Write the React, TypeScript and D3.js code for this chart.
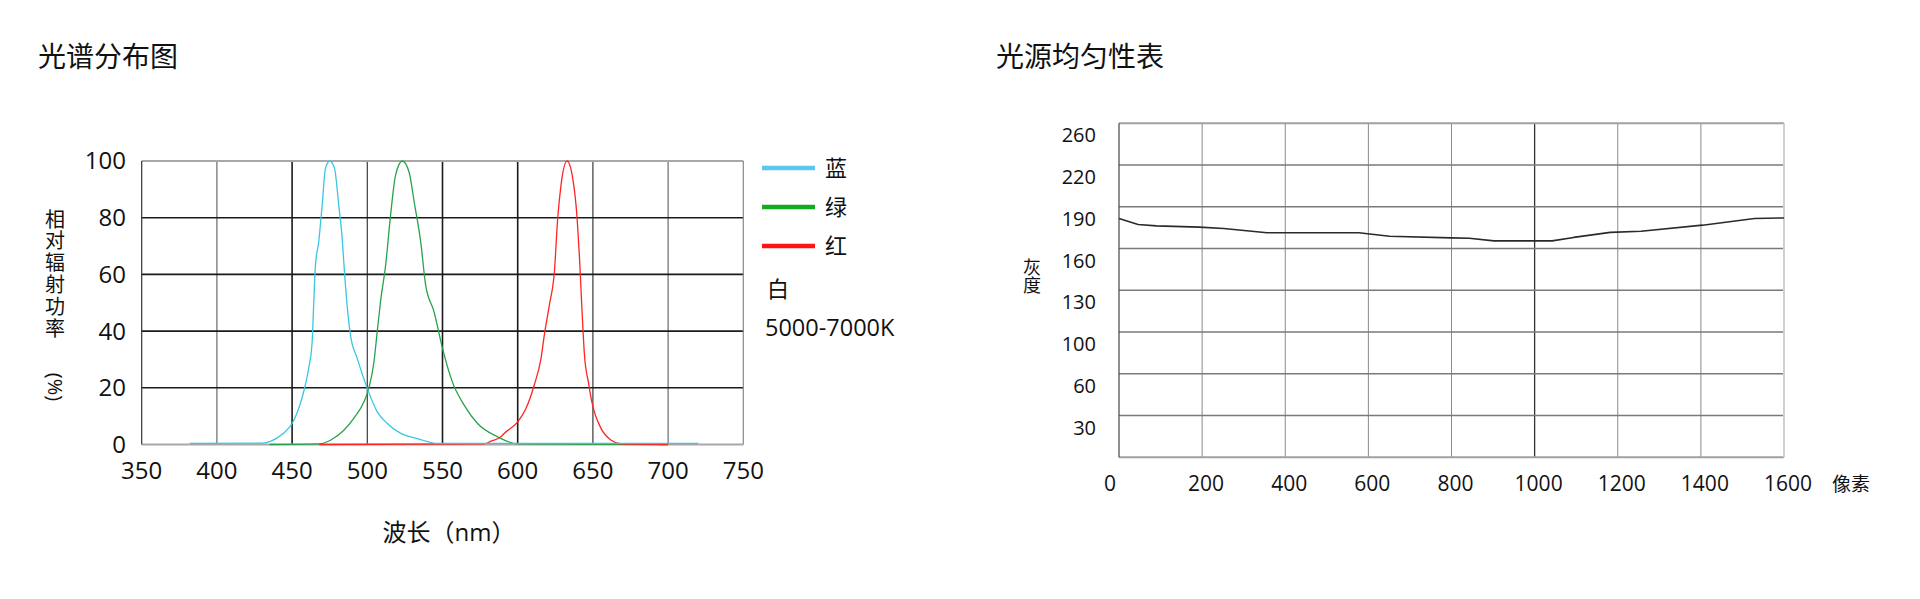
import * as React from "react";
import { scaleLinear, line as d3Line, curveMonotoneX, curveLinear, range } from "d3";

// spectrum chart data: [wavelength nm, relative power %]
const blueSpectrum: [number, number][] = [
  [382, 0.4], [430, 0.5], [436, 1.2], [444, 3.9], [450, 7.4], [455.5, 14.5],
  [457.7, 18.6], [461, 26.8], [463.3, 36], [464.4, 50], [465.5, 63], [467.7, 71.5],
  [470, 84.5], [472.2, 97.4], [475, 100], [478.2, 97.4], [481, 84.5], [483.3, 72.7],
  [484.8, 61], [486.6, 49], [488.8, 38.6], [493.3, 30.4], [500, 19.8], [506.6, 11.5],
  [513.3, 7.4], [522.2, 3.9], [533.3, 2.1], [546.6, 0.4], [560, 0.4], [720, 0.4],
];
const greenSpectrum: [number, number][] = [
  [435, 0], [468, 0.2], [475.5, 1.5], [484.4, 5], [491, 9.2], [497.7, 15],
  [501, 19.8], [504.4, 29], [506.6, 39.8], [508.8, 50.4], [512.2, 63.3], [515.5, 81],
  [518.8, 95], [523.3, 100], [527.7, 96.2], [531.5, 84.5], [535.5, 71.5], [538.8, 56.2],
  [544.4, 46.8], [550, 33.9], [556.6, 22], [564.4, 13.9], [573.3, 7.4], [586.6, 2.7],
  [600, 0.2], [700, 0],
];
const redSpectrum: [number, number][] = [
  [468, 0], [577.7, 0.2], [582.2, 1.2], [588.8, 2.7], [591, 3.9], [600, 8],
  [605.5, 12.7], [611, 21], [615.5, 30.4], [617.7, 38.6], [621, 49], [624.4, 61],
  [626.6, 79.8], [628.8, 91.5], [632.8, 100], [636.6, 93.9], [639.5, 79.8], [641, 66.8],
  [642.6, 49], [644.4, 31.5], [647, 22], [649.3, 15], [655.5, 5.6], [662.2, 1.5],
  [668.8, 0.2], [700, 0],
];
const wavelengthTicks = [350, 400, 450, 500, 550, 600, 650, 700, 750];
const powerTicks = [0, 20, 40, 60, 80, 100];
const legendNames = ["蓝", "绿", "红"];

// uniformity chart data
const pixelTicks = [0, 200, 400, 600, 800, 1000, 1200, 1400, 1600];
const grayTicks = [260, 220, 190, 160, 130, 100, 60, 30, 0];
const pixelPos = [0, 46, 90, 193, 252, 356, 577, 651, 799, 843, 902, 1042, 1094, 1182, 1256, 1404, 1529, 1600];
const grayVal = [181.6, 177.3, 176.3, 175.4, 174.4, 171.4, 171.4, 168.8, 167.7, 167.4, 165.5, 165.5, 168, 171.6, 172.4, 176.8, 181.6, 182];

const NUM = "'Open Sans', 'Noto Sans', sans-serif";
const CJK = "'Noto Sans CJK SC', sans-serif";

const SpectrumChart = () => {
  const x = scaleLinear().domain([350, 750]).range([141.7, 743.3]);
  const y = scaleLinear().domain([0, 100]).range([444.5, 161]);
  const line = d3Line<[number, number]>()
    .x(d => x(d[0]))
    .y(d => y(d[1]))
    .curve(curveMonotoneX);

  const strongX = [450, 550, 600];
  const midX = [500, 650];
  const series = [
    { data: greenSpectrum, color: "#27a24c" },
    { data: redSpectrum, color: "#ff2424" },
    { data: blueSpectrum, color: "#38c6e2" },
  ];
  const legendColors = ["#5cc8f0", "#10aa24", "#ff1414"];

  return (
    <g>
      <text x={38} y={67} fontFamily={CJK} fontSize={28} fill="#111">光谱分布图</text>

      {/* vertical grid */}
      {wavelengthTicks.slice(1, -1).map(t => (
        <line key={"vx" + t} x1={x(t)} x2={x(t)} y1={y(100)} y2={y(0)}
          stroke={strongX.includes(t) ? "#1a1a1a" : midX.includes(t) ? "#3a3a3a" : "#6a6a6a"}
          strokeWidth={strongX.includes(t) ? 1.6 : 1.2} />
      ))}
      {/* horizontal grid */}
      {powerTicks.slice(1, -1).map(t => (
        <line key={"hy" + t} x1={x(350)} x2={x(750)} y1={y(t)} y2={y(t)} stroke="#1a1a1a" strokeWidth={1.6} />
      ))}
      <line x1={x(350)} x2={x(750)} y1={y(100)} y2={y(100)} stroke="#a8a8a8" strokeWidth={2} />
      <line x1={x(350)} x2={x(750)} y1={y(0)} y2={y(0)} stroke="#a8a8a8" strokeWidth={2} />
      <line x1={x(350)} x2={x(350)} y1={y(100)} y2={y(0)} stroke="#333" strokeWidth={1.2} />
      <line x1={x(750)} x2={x(750)} y1={y(100)} y2={y(0)} stroke="#888" strokeWidth={1.2} />

      {series.map((s, i) => (
        <path key={i} d={line(s.data) || ""} fill="none" stroke={s.color} strokeWidth={1.3} strokeLinejoin="round" />
      ))}

      {/* tick labels */}
      {powerTicks.map(t => (
        <text key={"yl" + t} x={126} y={y(t)} dy="0.35em" textAnchor="end" fontFamily={NUM} fontSize={24} fill="#111">{t}</text>
      ))}
      {wavelengthTicks.map(t => (
        <text key={"xl" + t} x={x(t)} y={471} dy="0.35em" textAnchor="middle" fontFamily={NUM} fontSize={24} fill="#111">{t}</text>
      ))}

      {/* axis titles */}
      <text x={55} y={209} fontFamily={CJK} fontSize={20} letterSpacing={1.8} fill="#111"
        style={{ writingMode: "vertical-rl" }}>相对辐射功率</text>
      <text x={55} y={387} dy="0.35em" textAnchor="middle" fontFamily={NUM} fontSize={20} fill="#111"
        transform="rotate(90 55 387)">(%)</text>
      <text x={449} y={533} dy="0.35em" textAnchor="middle" fontSize={24} fill="#111">
        <tspan fontFamily={CJK}>波长（</tspan><tspan fontFamily={NUM}>nm</tspan><tspan fontFamily={CJK}>）</tspan>
      </text>

      {/* legend */}
      {legendNames.map((n, i) => (
        <g key={n}>
          <line x1={762} x2={815} y1={168 + i * 39} y2={168 + i * 39} stroke={legendColors[i]} strokeWidth={4.5} />
          <text x={825} y={168 + i * 39} dy="0.35em" fontFamily={CJK} fontSize={22} fill="#111">{n}</text>
        </g>
      ))}
      <text x={767} y={289} dy="0.35em" fontFamily={CJK} fontSize={22} fill="#111">白</text>
      <text x={765} y={328} dy="0.35em" fontFamily={NUM} fontSize={23.5} fill="#111">5000-7000K</text>
    </g>
  );
};

const UniformityChart = () => {
  const x = scaleLinear().domain([0, 1600]).range([1119, 1784]);
  const top = 123.3;
  const bottom = 457.3;
  const step = (bottom - top) / (grayTicks.length - 1);
  const y = scaleLinear().domain(grayTicks).range(range(grayTicks.length).map(i => top + i * step));
  const pts: [number, number][] = pixelPos.map((p, i) => [p, grayVal[i]]);
  const line = d3Line<[number, number]>()
    .x(d => x(d[0]))
    .y(d => y(d[1]))
    .curve(curveLinear);

  return (
    <g>
      <text x={996} y={67} fontFamily={CJK} fontSize={28} fill="#111">光源均匀性表</text>

      {pixelTicks.slice(1, -1).map(t => (
        <line key={"vx" + t} x1={x(t)} x2={x(t)} y1={y(260)} y2={y(0)}
          stroke={t === 1000 ? "#333" : "#8a8a8a"} strokeWidth={t === 1000 ? 1.3 : 1} />
      ))}
      {grayTicks.slice(1, -1).map(t => (
        <line key={"hy" + t} x1={x(0)} x2={x(1600)} y1={y(t)} y2={y(t)} stroke="#7a7a7a" strokeWidth={1.6} />
      ))}
      <line x1={x(0)} x2={x(1600)} y1={y(260)} y2={y(260)} stroke="#a0a0a0" strokeWidth={2} />
      <line x1={x(0)} x2={x(1600)} y1={y(0)} y2={y(0)} stroke="#a0a0a0" strokeWidth={2} />
      <line x1={x(0)} x2={x(0)} y1={y(260)} y2={y(0)} stroke="#444" strokeWidth={1.2} />
      <line x1={x(1600)} x2={x(1600)} y1={y(260)} y2={y(0)} stroke="#cfcfcf" strokeWidth={2} />

      <path d={line(pts) || ""} fill="none" stroke="#2a2a2a" strokeWidth={1.6} strokeLinejoin="round" />

      {grayTicks.slice(0, -1).map(t => (
        <text key={"yl" + t} x={1096} y={y(t) + 12} dy="0.35em" textAnchor="end" fontFamily={NUM} fontSize={20} fill="#111">{t}</text>
      ))}
      {pixelTicks.map(t => (
        <text key={"xl" + t} x={t === 0 ? x(t) - 9 : x(t) + 4} y={484} dy="0.35em" textAnchor="middle" fontFamily={NUM} fontSize={21} fill="#111">{t}</text>
      ))}
      <text x={1832} y={484} dy="0.35em" fontFamily={CJK} fontSize={19} fill="#111">像素</text>
      <text x={1032} y={258} fontFamily={CJK} fontSize={18} letterSpacing={0.5} fill="#111"
        style={{ writingMode: "vertical-rl" }}>灰度</text>
    </g>
  );
};

const App = () => (
  <div style={{ position: "fixed", left: 0, top: 0, background: "#fff" }}>
    <svg width={1920} height={599} style={{ display: "block" }}>
      <rect width={1920} height={599} fill="#fff" />
      <SpectrumChart />
      <UniformityChart />
    </svg>
  </div>
);

export default App;
